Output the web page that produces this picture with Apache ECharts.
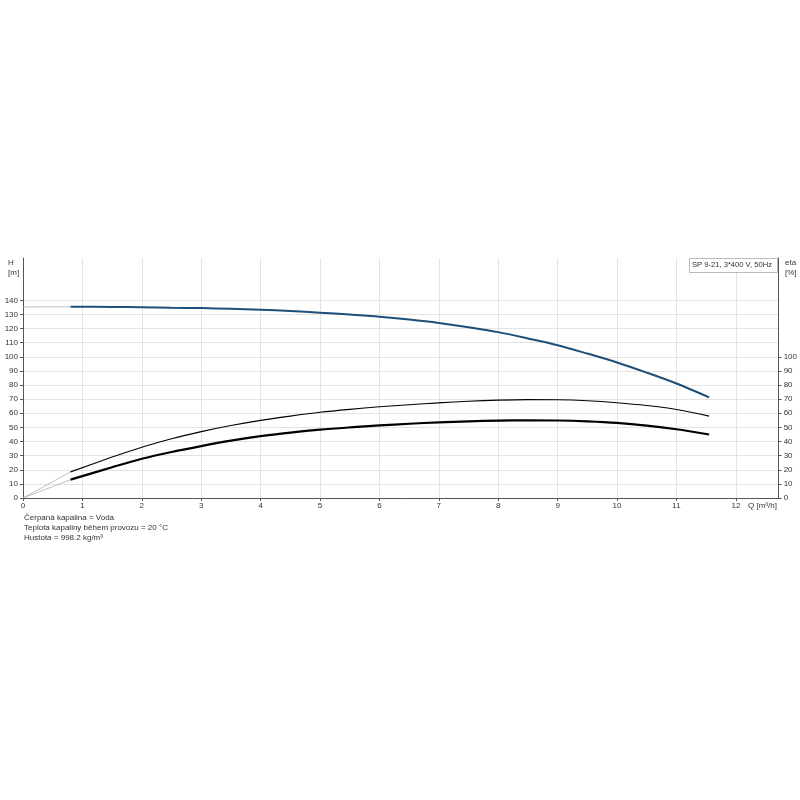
<!DOCTYPE html>
<html><head><meta charset="utf-8">
<script src="https://cdn.jsdelivr.net/npm/echarts@6/dist/echarts.min.js"></script>
<style>html,body{margin:0;padding:0;background:#fff}#c{width:800px;height:800px}</style>
</head><body><div id="c"></div>
<script>
const flow = [0.8, 1.5, 2, 2.5, 3, 3.5, 4, 4.5, 5, 5.5, 6, 6.5, 7, 7.5, 8, 8.5, 9, 9.5, 10, 10.5, 11, 11.55];
const head = [135.5, 135.3, 135.1, 134.8, 134.5, 134, 133.4, 132.5, 131.3, 129.9, 128.4, 126.4, 124, 121, 117.5, 113, 108.2, 102.3, 96, 88.8, 81.1, 71.3];
const etaUpper = [18.5, 29, 36, 42, 47, 51.3, 55, 58, 60.7, 62.8, 64.6, 66, 67.4, 68.5, 69.3, 69.7, 69.6, 68.9, 67.5, 65.5, 62.7, 58];
const etaLower = [13, 21.8, 27.8, 32.6, 36.8, 40.6, 43.8, 46.3, 48.4, 50, 51.4, 52.6, 53.6, 54.3, 54.8, 55, 54.9, 54.3, 53.2, 51.3, 48.7, 45];
const headLead = [[0, 135.3], [0.8, 135.5]];
const upperLead = [[0, 0], [0.8, 18.5]];
const lowerLead = [[0, 0], [0.8, 13]];
const xTicks = [0,1,2,3,4,5,6,7,8,9,10,11,12];
const leftTicks = [0,10,20,30,40,50,60,70,80,90,100,110,120,130,140];
const rightTicks = [0,10,20,30,40,50,60,70,80,90,100];
const legendText = 'SP 9-21, 3*400 V, 50Hz';
const notes = ['Čerpaná kapalina = Voda', 'Teplota kapaliny během provozu = 20 °C', 'Hustota = 998.2 kg/m³'];

const pair = (a) => flow.map((q, i) => [q, a[i]]);
const font = 'Liberation Sans, Arial, sans-serif';
const lbl = {fontSize: 8, color: '#333', fontFamily: font};
const chart = echarts.init(document.getElementById('c'), null, {renderer: 'canvas'});
const smoothCfg = {smooth: 0.3};
chart.setOption({
  animation: false,
  grid: {left: 23, right: 20, top: 258, bottom: 302, containLabel: false},
  xAxis: {
    type: 'value', min: 0, max: 12.72, interval: 1,
    axisLine: {show: true, lineStyle: {color: '#555', width: 1}},
    axisTick: {show: true, length: 3, lineStyle: {color: '#555'}, customValues: xTicks},
    axisLabel: Object.assign({margin: 4, customValues: xTicks}, lbl),
    splitLine: {show: true, lineStyle: {color: '#e3e3e3', width: 1}}
  },
  yAxis: [{
    type: 'value', min: 0, max: 170, interval: 10, position: 'left',
    axisLine: {show: true, lineStyle: {color: '#555', width: 1}},
    axisTick: {show: true, length: 3, lineStyle: {color: '#555'}, customValues: leftTicks},
    axisLabel: Object.assign({margin: 5, customValues: leftTicks}, lbl),
    splitLine: {show: true, lineStyle: {color: '#e3e3e3', width: 1}}
  }, {
    type: 'value', min: 0, max: 170, interval: 10, position: 'right',
    axisLine: {show: true, lineStyle: {color: '#555', width: 1}},
    axisTick: {show: true, length: 3, lineStyle: {color: '#555'}, customValues: rightTicks},
    axisLabel: Object.assign({margin: 5, customValues: rightTicks}, lbl),
    splitLine: {show: false}
  }],
  series: [
    {type: 'line', data: headLead, symbol: 'none', lineStyle: {color: '#b0b0b0', width: 0.8}, z: 2},
    {type: 'line', data: upperLead, yAxisIndex: 1, symbol: 'none', lineStyle: {color: '#b0b0b0', width: 0.8}, z: 2},
    {type: 'line', data: lowerLead, yAxisIndex: 1, symbol: 'none', lineStyle: {color: '#b0b0b0', width: 0.8}, z: 2},
    Object.assign({type: 'line', data: pair(head), symbol: 'none', lineStyle: {color: '#1d4f7a', width: 2}, z: 3}, smoothCfg),
    Object.assign({type: 'line', data: pair(etaUpper), yAxisIndex: 1, symbol: 'none', lineStyle: {color: '#000', width: 1.1}, z: 3}, smoothCfg),
    Object.assign({type: 'line', data: pair(etaLower), yAxisIndex: 1, symbol: 'none', lineStyle: {color: '#000', width: 2.2}, z: 3}, smoothCfg)
  ],
  graphic: [
    {type: 'text', left: 8, top: 258, style: {text: 'H\n[m]', font: '8px ' + font, fill: '#333', lineHeight: 10}},
    {type: 'text', left: 785, top: 258, style: {text: 'eta\n[%]', font: '8px ' + font, fill: '#333', lineHeight: 10}},
    {type: 'text', left: 748, top: 502, style: {text: 'Q [m³/h]', font: '8px ' + font, fill: '#333'}},
    {type: 'rect', shape: {x: 689.5, y: 258.5, width: 88, height: 14}, style: {fill: '#fff', stroke: '#bbb', lineWidth: 1}, z: 10},
    {type: 'text', left: 692, top: 261, style: {text: legendText, font: '7.6px ' + font, fill: '#333'}, z: 11},
    {type: 'text', left: 24, top: 513, style: {text: notes.join('\n'), font: '8px ' + font, fill: '#333', lineHeight: 10}}
  ]
});
</script></body></html>
